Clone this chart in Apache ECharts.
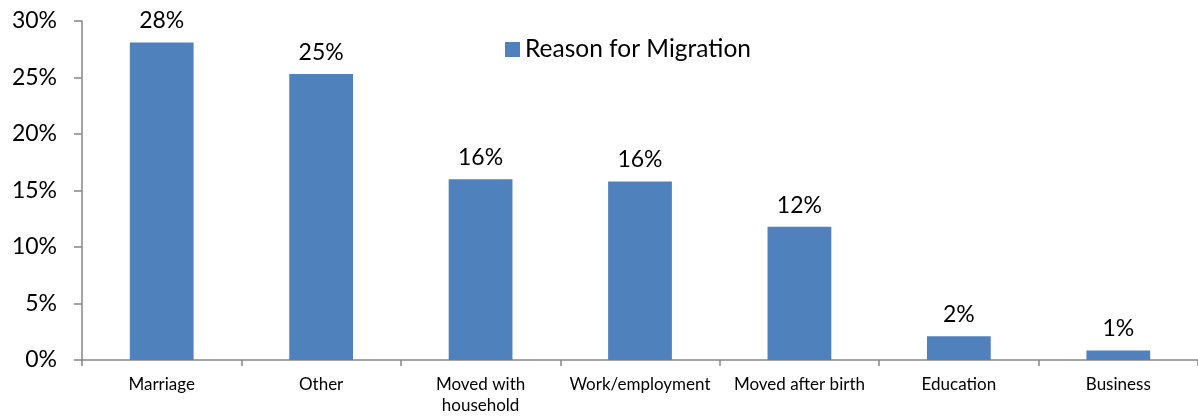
<!DOCTYPE html>
<html>
<head>
<meta charset="utf-8">
<script src="https://cdn.jsdelivr.net/npm/echarts@6/dist/echarts.min.js"></script>
<style>
html,body{margin:0;padding:0;background:#fff;}
#chart{width:1198px;height:416px;}
</style>
</head>
<body>
<div id="chart"></div>
<script>
const categories = ['Marriage', 'Other', 'Moved with\nhousehold', 'Work/employment', 'Moved after birth', 'Education', 'Business'];
const values = [0.281, 0.253, 0.160, 0.158, 0.118, 0.021, 0.0085];
const seriesName = 'Reason for Migration';
const yTicks = { min: 0, max: 0.30, interval: 0.05 };

const FONT = 'Lato, "Open Sans", sans-serif';
const chart = echarts.init(document.getElementById('chart'), null, { renderer: 'canvas' });
chart.setOption({
  animation: false,
  backgroundColor: '#ffffff',
  legend: {
    show: true,
    left: 500,
    top: 32,
    itemWidth: 15,
    itemHeight: 15,
    itemGap: 8,
    icon: 'rect',
    textStyle: { fontFamily: FONT, fontSize: 24.5, color: '#000' },
    data: [seriesName]
  },
  grid: { left: 82, top: 21, width: 1119, height: 341, containLabel: false },
  xAxis: {
    type: 'category',
    data: categories,
    boundaryGap: true,
    axisLine: { show: true, lineStyle: { color: '#868686', width: 1.5 } },
    axisTick: { show: true, length: 6, lineStyle: { color: '#868686', width: 1.5 } },
    axisLabel: { fontFamily: FONT, fontSize: 17, color: '#000', margin: 14, lineHeight: 21, interval: 0 }
  },
  yAxis: {
    type: 'value',
    min: yTicks.min,
    max: yTicks.max,
    interval: yTicks.interval,
    splitLine: { show: false },
    axisLine: { show: true, lineStyle: { color: '#868686', width: 1.5 } },
    axisTick: { show: true, length: 8, lineStyle: { color: '#868686', width: 1.5 } },
    axisLabel: {
      fontFamily: FONT, fontSize: 23, color: '#000', margin: 25,
      formatter: v => Math.round(v * 100) + '%'
    }
  },
  series: [{
    name: seriesName,
    type: 'bar',
    data: values,
    barWidth: '40%',
    itemStyle: { color: '#4f81bd' },
    label: {
      show: true,
      position: 'top',
      distance: 10,
      fontFamily: FONT,
      fontSize: 23,
      color: '#000',
      formatter: p => Math.round(p.value * 100) + '%'
    }
  }]
});
</script>
</body>
</html>
